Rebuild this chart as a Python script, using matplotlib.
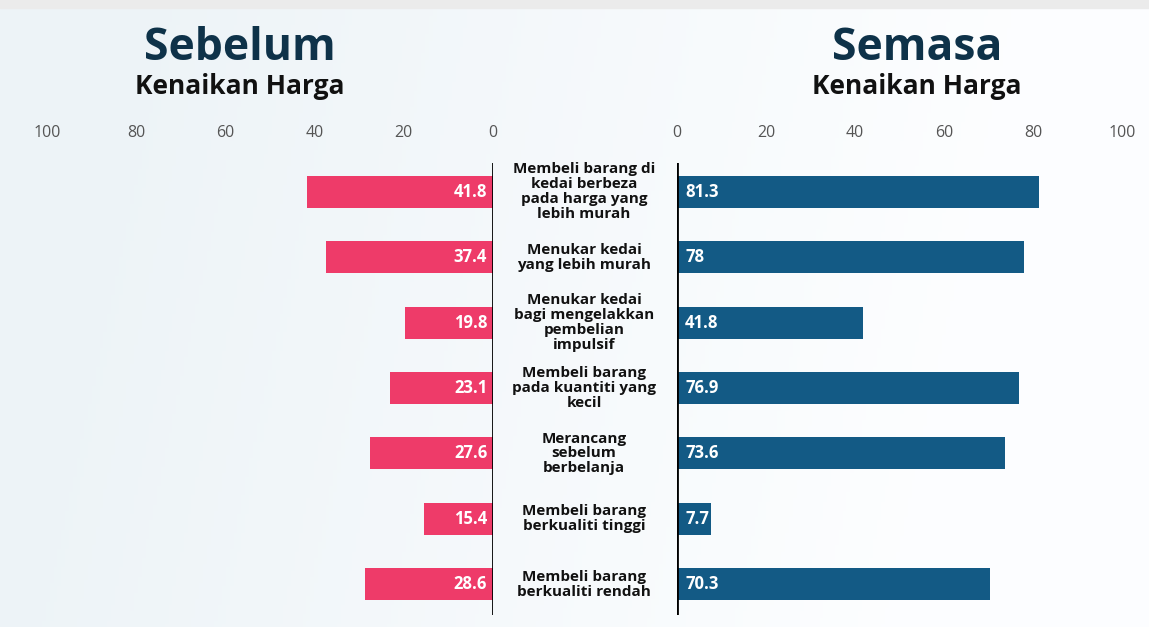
import matplotlib
matplotlib.use("Agg")
import matplotlib.pyplot as plt
import numpy as np

# data
categories = [
    "Membeli barang di\nkedai berbeza\npada harga yang\nlebih murah",
    "Menukar kedai\nyang lebih murah",
    "Menukar kedai\nbagi mengelakkan\npembelian\nimpulsif",
    "Membeli barang\npada kuantiti yang\nkecil",
    "Merancang\nsebelum\nberbelanja",
    "Membeli barang\nberkualiti tinggi",
    "Membeli barang\nberkualiti rendah",
]
sebelum = [41.8, 37.4, 19.8, 23.1, 27.6, 15.4, 28.6]
semasa = [81.3, 78, 41.8, 76.9, 73.6, 7.7, 70.3]
ticks = [0, 20, 40, 60, 80, 100]

PINK = "#ee3b69"
BLUE = "#135a85"
NAVY = "#0e3249"

W, H = 1149, 627
fig = plt.figure(figsize=(W / 100, H / 100), dpi=100)
fig.patch.set_facecolor("white")

# soft background
bg = fig.add_axes([0, 0, 1, 1], zorder=-10)
gx = np.linspace(0, 1, 300)
gy = np.linspace(0, 1, 200)
X, Y = np.meshgrid(gx, gy)
grad = np.clip(1 - X * 1.3 + 0.15 * Y, 0, 1)
c0 = np.array([0.93, 0.955, 0.97])
c1 = np.array([0.99, 0.995, 1.0])
img = c1 + (c0 - c1) * grad[..., None]
bg.imshow(img, aspect="auto", extent=[0, 1, 0, 1], origin="lower")
bg.axhspan(1 - 8 / H, 1, color="#ebebeb")
bg.set_xlim(0, 1)
bg.set_ylim(0, 1)
bg.axis("off")


def px(x0, y0, x1, y1):
    return [x0 / W, 1 - y1 / H, (x1 - x0) / W, (y1 - y0) / H]


y = np.arange(len(categories))
axL = fig.add_axes(px(47, 163, 493, 615))
axR = fig.add_axes(px(677, 163, 1122, 615))

for ax, vals, color in [(axL, sebelum, PINK), (axR, semasa, BLUE)]:
    ax.barh(y, vals, height=0.49, color=color, zorder=2)
    ax.set_xlim(0, 100)
    ax.set_ylim(6.47, -0.44)
    ax.patch.set_alpha(0)
    for s in ["top", "right", "bottom", "left"]:
        ax.spines[s].set_visible(False)
    ax.set_yticks([])
    ax.set_xticks(ticks)
    ax.xaxis.tick_top()
    ax.tick_params(axis="x", length=0, pad=16, labelsize=11.5,
                   labelcolor="#555555")
    for t in ax.get_xticklabels():
        t.set_fontfamily("Open Sans")

axL.invert_xaxis()
axL.axvline(0, color="black", lw=2, zorder=3)
axR.axvline(0, color="black", lw=2, zorder=3)

for i, v in enumerate(sebelum):
    axL.text(1.3, i, f"{v:g}", ha="right", va="center", color="white",
             fontsize=12, fontweight="bold", family="Open Sans", zorder=4)
for i, v in enumerate(semasa):
    axR.text(1.8, i, f"{v:g}", ha="left", va="center", color="white",
             fontsize=12, fontweight="bold", family="Open Sans", zorder=4)

# category labels in the middle
for i, c in enumerate(categories):
    yy = axL.transData.transform((0, i))[1]
    fig.text(584 / W, yy / H, c, ha="center", va="center", fontsize=11,
             fontweight="bold", family="Open Sans", color="#111111",
             linespacing=1.08)

# headers
fig.text(240 / W, 1 - 48 / H, "Sebelum", ha="center", va="center",
         fontsize=32, fontweight="bold", family="Open Sans", color=NAVY)
fig.text(240 / W, 1 - 87 / H, "Kenaikan Harga", ha="center", va="center",
         fontsize=19, fontweight="bold", family="Open Sans", color="#111111")
fig.text(917 / W, 1 - 48 / H, "Semasa", ha="center", va="center",
         fontsize=32, fontweight="bold", family="Open Sans", color=NAVY)
fig.text(917 / W, 1 - 87 / H, "Kenaikan Harga", ha="center", va="center",
         fontsize=19, fontweight="bold", family="Open Sans", color="#111111")

fig.savefig("out.png", dpi=100)
